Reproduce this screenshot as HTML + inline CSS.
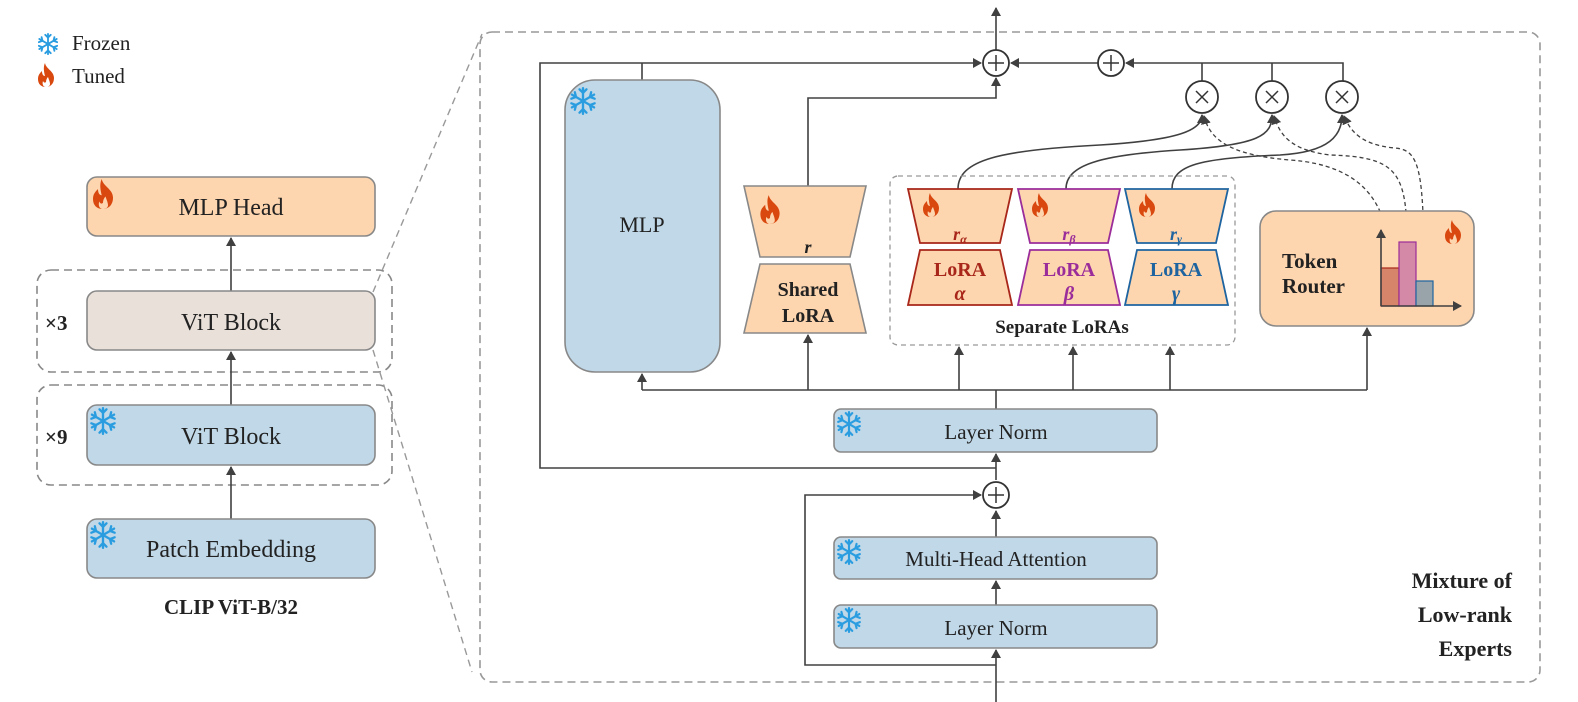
<!DOCTYPE html>
<html><head><meta charset="utf-8"><style>
html,body{margin:0;padding:0;background:#fff}
svg{display:block}
text{font-family:"Liberation Serif",serif;fill:#222}
</style></head><body>
<svg width="1578" height="702" viewBox="0 0 1578 702" xmlns="http://www.w3.org/2000/svg">
<defs>
<marker id="ah" markerWidth="10" markerHeight="10" refX="8" refY="5" orient="auto" markerUnits="userSpaceOnUse">
<path d="M0,0 L9,5 L0,10 z" fill="#404040"/></marker>
<symbol id="snow" viewBox="-12 -12 24 24">
<g stroke="#2a9de0" stroke-width="2" fill="none" stroke-linecap="round">
<line x1="0" y1="-11" x2="0" y2="11"/><line x1="-9.5" y1="-5.5" x2="9.5" y2="5.5"/><line x1="-9.5" y1="5.5" x2="9.5" y2="-5.5"/>
<path d="M-3,-10 L0,-7 L3,-10 M-3,10 L0,7 L3,10 M-10,-2 L-6,-3.5 L-7,-7.5 M10,2 L6,3.5 L7,7.5 M-10,2 L-6,3.5 L-7,7.5 M10,-2 L6,-3.5 L7,-7.5"/>
</g></symbol>
<symbol id="fire" viewBox="0 0 20 24">
<path d="M9,0 C10,6 18,8 18,15 C18,21 14,24 10,24 C5,24 2,21 2,16 C2,12 4,10 6,8 C6,11 7,13 9,13 C8,9 7,4 9,0 Z M10,24 C7,24 6,21 7,18 C8,20 9,20 10,19 C10,17 11,15 12,14 C13,17 14,19 14,21 C14,23 12,24 10,24Z" fill="#d9480f" fill-rule="evenodd"/>
</symbol>
</defs>

<!-- Legend -->
<use href="#snow" x="37" y="33" width="22" height="22"/>
<text x="72" y="50" font-size="21">Frozen</text>
<use href="#fire" x="36" y="63" width="20" height="24"/>
<text x="72" y="83" font-size="21">Tuned</text>

<!-- Left column -->
<rect x="37" y="270" width="355" height="102" rx="14" fill="none" stroke="#888" stroke-width="1.6" stroke-dasharray="8,5"/>
<rect x="37" y="385" width="355" height="100" rx="14" fill="none" stroke="#888" stroke-width="1.6" stroke-dasharray="8,5"/>
<line x1="231" y1="519" x2="231" y2="467" stroke="#404040" stroke-width="1.6" marker-end="url(#ah)"/>
<line x1="231" y1="405" x2="231" y2="352" stroke="#404040" stroke-width="1.6" marker-end="url(#ah)"/>
<line x1="231" y1="291" x2="231" y2="238" stroke="#404040" stroke-width="1.6" marker-end="url(#ah)"/>
<rect x="87" y="177" width="288" height="59" rx="10" fill="#fdd5ae" stroke="#888" stroke-width="1.6"/>
<use href="#fire" x="90" y="179" width="26" height="30"/>
<text x="231" y="215" font-size="24" text-anchor="middle">MLP Head</text>
<rect x="87" y="291" width="288" height="59" rx="10" fill="#e9e0da" stroke="#888" stroke-width="1.6"/>
<text x="231" y="330" font-size="24" text-anchor="middle">ViT Block</text>
<text x="45" y="330" font-size="21" font-weight="bold">×3</text>
<rect x="87" y="405" width="288" height="60" rx="10" fill="#c0d8e8" stroke="#888" stroke-width="1.6"/>
<use href="#snow" x="89" y="407" width="28" height="28"/>
<text x="231" y="444" font-size="24" text-anchor="middle">ViT Block</text>
<text x="45" y="444" font-size="21" font-weight="bold">×9</text>
<rect x="87" y="519" width="288" height="59" rx="10" fill="#c0d8e8" stroke="#888" stroke-width="1.6"/>
<use href="#snow" x="89" y="521" width="28" height="28"/>
<text x="231" y="557" font-size="24" text-anchor="middle">Patch Embedding</text>
<text x="231" y="614" font-size="21" font-weight="bold" text-anchor="middle">CLIP ViT-B/32</text>

<!-- zoom lines -->
<line x1="373" y1="292" x2="482" y2="34" stroke="#999" stroke-width="1.4" stroke-dasharray="7,5"/>
<line x1="373" y1="350" x2="472" y2="672" stroke="#999" stroke-width="1.4" stroke-dasharray="7,5"/>

<!-- Big dashed box -->
<rect x="480" y="32" width="1060" height="650" rx="12" fill="none" stroke="#999" stroke-width="1.6" stroke-dasharray="8,5"/>

<g stroke="#404040" stroke-width="1.6" fill="none">
<line x1="996" y1="50" x2="996" y2="8" marker-end="url(#ah)"/>
<polyline points="996,468 540,468 540,63 981,63" marker-end="url(#ah)"/>
<line x1="642" y1="63" x2="642" y2="80"/>
<polyline points="808,186 808,98 996,98 996,78" marker-end="url(#ah)"/>
<line x1="1098" y1="63" x2="1011" y2="63" marker-end="url(#ah)"/>
<polyline points="1343,81 1343,63 1126,63" marker-end="url(#ah)"/>
<line x1="1202" y1="63" x2="1202" y2="81"/>
<line x1="1272" y1="63" x2="1272" y2="81"/>
<path d="M958,189 C958,160 1000,150 1100,145 C1180,140 1202,130 1202,115" marker-end="url(#ah)"/>
<path d="M1066,189 C1066,165 1100,155 1180,150 C1260,145 1272,135 1272,115" marker-end="url(#ah)"/>
<path d="M1172,189 C1172,165 1200,158 1280,155 C1330,152 1342,135 1342,115" marker-end="url(#ah)"/>
<polyline points="642,390 1367,390"/>
<line x1="996" y1="409" x2="996" y2="390"/>
<line x1="642" y1="390" x2="642" y2="374" marker-end="url(#ah)"/>
<line x1="808" y1="390" x2="808" y2="335" marker-end="url(#ah)"/>
<line x1="959" y1="390" x2="959" y2="347" marker-end="url(#ah)"/>
<line x1="1073" y1="390" x2="1073" y2="347" marker-end="url(#ah)"/>
<line x1="1170" y1="390" x2="1170" y2="347" marker-end="url(#ah)"/>
<line x1="1367" y1="390" x2="1367" y2="328" marker-end="url(#ah)"/>
<line x1="996" y1="480" x2="996" y2="454" marker-end="url(#ah)"/>
<line x1="996" y1="537" x2="996" y2="511" marker-end="url(#ah)"/>
<line x1="996" y1="605" x2="996" y2="581" marker-end="url(#ah)"/>
<line x1="996" y1="702" x2="996" y2="650" marker-end="url(#ah)"/>
<polyline points="996,665 805,665 805,495 981,495" marker-end="url(#ah)"/>
</g>
<g stroke="#404040" stroke-width="1.3" fill="none" stroke-dasharray="4,3">
<path d="M1390,267 C1390,200 1360,165 1290,160 C1230,155 1210,140 1204,116" marker-end="url(#ah)"/>
<path d="M1407,241 C1407,170 1395,157 1330,155 C1290,150 1280,135 1274,116" marker-end="url(#ah)"/>
<path d="M1424,280 C1424,170 1420,150 1395,148 C1360,145 1350,130 1344,116" marker-end="url(#ah)"/>
</g>

<g stroke="#333" stroke-width="1.8" fill="#fff">
<circle cx="996" cy="63" r="13"/><circle cx="1111" cy="63" r="13"/>
<circle cx="1202" cy="97" r="16"/><circle cx="1272" cy="97" r="16"/><circle cx="1342" cy="97" r="16"/>
<circle cx="996" cy="495" r="13"/>
</g>
<g stroke="#333" stroke-width="1.5">
<path d="M988,63h16M996,55v16M1103,63h16M1111,55v16M988,495h16M996,487v16"/>
<path d="M1196,91l12,12M1208,91l-12,12M1266,91l12,12M1278,91l-12,12M1336,91l12,12M1348,91l-12,12"/>
</g>

<rect x="565" y="80" width="155" height="292" rx="30" fill="#c0d8e8" stroke="#888" stroke-width="1.6"/>
<use href="#snow" x="569" y="87" width="28" height="28"/>
<text x="642" y="232" font-size="22" text-anchor="middle">MLP</text>

<polygon points="744,186 866,186 850,257 760,257" fill="#fdd5ae" stroke="#888" stroke-width="1.6"/>
<use href="#fire" x="758" y="195" width="24" height="29"/>
<text x="808" y="253" font-size="18" font-weight="bold" font-style="italic" text-anchor="middle">r</text>
<polygon points="760,264 850,264 866,333 744,333" fill="#fdd5ae" stroke="#888" stroke-width="1.6"/>
<text x="808" y="296" font-size="20" font-weight="bold" text-anchor="middle">Shared</text>
<text x="808" y="322" font-size="20" font-weight="bold" text-anchor="middle">LoRA</text>

<rect x="890" y="176" width="345" height="169" rx="8" fill="none" stroke="#999" stroke-width="1.3" stroke-dasharray="5,4"/>
<g stroke-width="1.8" fill="#fdd5ae">
<polygon points="908,189 1012,189 1000,243 920,243" stroke="#a8261a"/>
<polygon points="920,250 1000,250 1012,305 908,305" stroke="#a8261a"/>
<polygon points="1018,189 1120,189 1108,243 1030,243" stroke="#9b2d9b"/>
<polygon points="1030,250 1108,250 1120,305 1018,305" stroke="#9b2d9b"/>
<polygon points="1125,189 1228,189 1216,243 1137,243" stroke="#1e64a0"/>
<polygon points="1137,250 1216,250 1228,305 1125,305" stroke="#1e64a0"/>
</g>
<use href="#fire" x="921" y="193" width="20" height="24"/>
<use href="#fire" x="1030" y="193" width="20" height="24"/>
<use href="#fire" x="1137" y="193" width="20" height="24"/>
<text x="960" y="240" font-size="18" font-weight="bold" font-style="italic" text-anchor="middle" style="fill:#a8261a">r<tspan font-size="12" dy="3">α</tspan></text>
<text x="1069" y="240" font-size="18" font-weight="bold" font-style="italic" text-anchor="middle" style="fill:#9b2d9b">r<tspan font-size="12" dy="3">β</tspan></text>
<text x="1176" y="240" font-size="18" font-weight="bold" font-style="italic" text-anchor="middle" style="fill:#1e64a0">r<tspan font-size="12" dy="3">γ</tspan></text>
<g font-size="20" font-weight="bold" text-anchor="middle">
<text x="960" y="276" style="fill:#a8261a">LoRA</text><text x="960" y="300" font-style="italic" style="fill:#a8261a">α</text>
<text x="1069" y="276" style="fill:#9b2d9b">LoRA</text><text x="1069" y="300" font-style="italic" style="fill:#9b2d9b">β</text>
<text x="1176" y="276" style="fill:#1e64a0">LoRA</text><text x="1176" y="300" font-style="italic" style="fill:#1e64a0">γ</text>
</g>
<text x="1062" y="333" font-size="19" font-weight="bold" text-anchor="middle">Separate LoRAs</text>

<rect x="1260" y="211" width="214" height="115" rx="16" fill="#fdd5ae" stroke="#888" stroke-width="1.6"/>
<use href="#fire" x="1443" y="220" width="20" height="24"/>
<text x="1282" y="268" font-size="21" font-weight="bold">Token</text>
<text x="1282" y="293" font-size="21" font-weight="bold">Router</text>
<rect x="1381" y="268" width="18" height="38" fill="#d6856a" stroke="#a8261a" stroke-width="1.2"/>
<rect x="1399" y="242" width="17" height="64" fill="#d48aa6" stroke="#9b2d9b" stroke-width="1.2"/>
<rect x="1416" y="281" width="17" height="25" fill="#98a4aa" stroke="#1e64a0" stroke-width="1.2"/>
<g stroke="#404040" stroke-width="1.6" fill="none">
<line x1="1381" y1="306" x2="1381" y2="230" marker-end="url(#ah)"/>
<line x1="1381" y1="306" x2="1461" y2="306" marker-end="url(#ah)"/>
</g>

<rect x="834" y="409" width="323" height="43" rx="7" fill="#c0d8e8" stroke="#888" stroke-width="1.6"/>
<use href="#snow" x="836" y="411" width="26" height="26"/>
<text x="996" y="439" font-size="21" text-anchor="middle">Layer Norm</text>
<rect x="834" y="537" width="323" height="42" rx="7" fill="#c0d8e8" stroke="#888" stroke-width="1.6"/>
<use href="#snow" x="836" y="539" width="26" height="26"/>
<text x="996" y="566" font-size="21" text-anchor="middle">Multi-Head Attention</text>
<rect x="834" y="605" width="323" height="43" rx="7" fill="#c0d8e8" stroke="#888" stroke-width="1.6"/>
<use href="#snow" x="836" y="607" width="26" height="26"/>
<text x="996" y="635" font-size="21" text-anchor="middle">Layer Norm</text>

<g font-size="22" font-weight="bold" text-anchor="end">
<text x="1512" y="588">Mixture of</text>
<text x="1512" y="622">Low-rank</text>
<text x="1512" y="656">Experts</text>
</g>
</svg>
</body></html>
